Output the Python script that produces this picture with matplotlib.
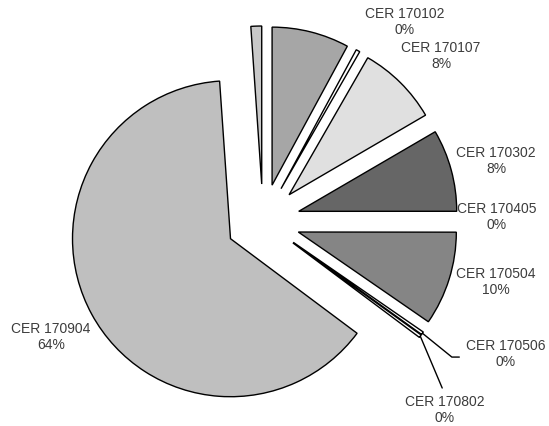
import matplotlib.pyplot as plt
import numpy as np

plt.rcParams['font.family'] = ['Liberation Sans', 'DejaVu Sans']

# waste codes, clockwise from 12 o'clock
codes = ['CER 170101', 'CER 170102', 'CER 170107', 'CER 170302', 'CER 170405',
         'CER 170504', 'CER 170506', 'CER 170802', 'CER 170904', 'CER 170201']
shares = [7.9, 0.4, 8.3, 8.4, 0.02, 9.6, 0.3, 0.3, 63.7, 1.1]
fills = ['#a6a6a6', '#ffffff', '#e0e0e0', '#666666', '#ffffff',
         '#858585', '#ffffff', '#ffffff', '#bfbfbf', '#c8c8c8']

W, H = 549, 426
fig = plt.figure(figsize=(W / 100, H / 100), dpi=100)
ax = fig.add_axes([0, 0, 1, 1])

# explode is in data units here (pixels), not a fraction of the radius
wedges, _ = ax.pie(shares, colors=fills, startangle=90, counterclock=False,
                   explode=[37] * len(shares), radius=158, center=(263, 205),
                   wedgeprops=dict(edgecolor='black', linewidth=1.0))
wedges[4].set_linewidth(0)
ax.set_xlim(0, W)
ax.set_ylim(0, H)
ax.set_aspect('equal')
ax.axis('off')

total = sum(shares)

def label(i):
    return '%s\n%d%%' % (codes[i], round(shares[i] / total * 100))

txt = dict(fontsize=10, color='#3c3c3c', ha='center', va='center', linespacing=1.25)

# label positions in pixels from the top-left corner
spots = {1: (405, 22), 2: (441, 56), 3: (496, 161), 4: (497, 217),
         5: (496, 282), 8: (51, 337)}
for i, (px, py) in spots.items():
    ax.text(px, H - py, label(i), **txt)

# leader lines for the two slivers at the lower right
for i, (px, py), rel, conn in [(6, (506, 354), (0.0, 0.4), 'angle,angleA=0,angleB=-39'),
                               (7, (445, 410), (0.5, 1.0), 'arc3')]:
    w = wedges[i]
    mid = np.deg2rad((w.theta1 + w.theta2) / 2)
    cx, cy = w.center
    tip = (cx + w.r * np.cos(mid), cy + w.r * np.sin(mid))
    ax.annotate(label(i), xy=tip, xytext=(px, H - py),
                arrowprops=dict(arrowstyle='-', color='black', lw=1.0,
                                connectionstyle=conn, relpos=rel,
                                shrinkA=3, shrinkB=0), **txt)

fig.savefig('out.png', dpi=100)
